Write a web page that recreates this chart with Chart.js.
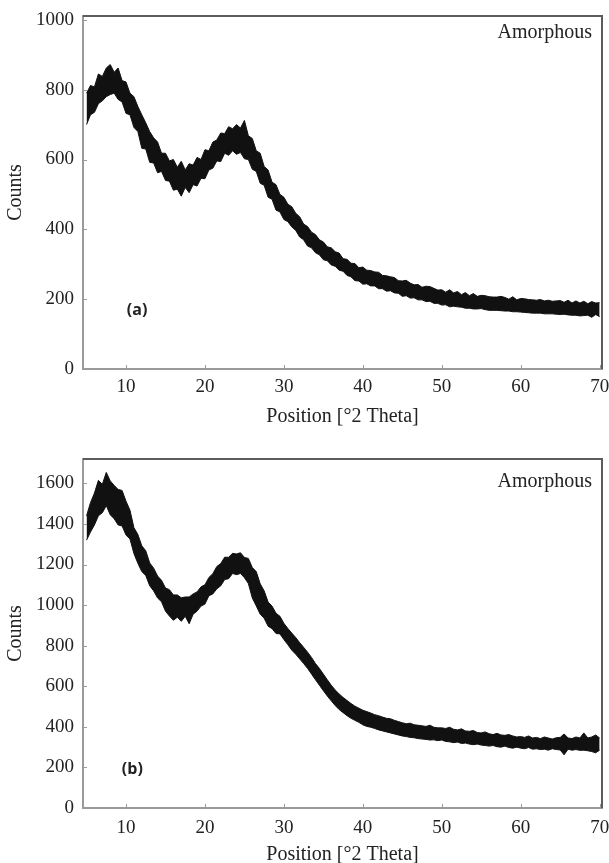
<!DOCTYPE html>
<html>
<head>
<meta charset="utf-8">
<script src="https://cdn.jsdelivr.net/npm/chart.js@4.4.1/dist/chart.umd.min.js"></script>
<style>
  html, body { margin: 0; padding: 0; background: #fff; overflow: hidden; }
  #wrapA { position: absolute; left: 0; top: 0; width: 609px; height: 440px; }
  #wrapB { position: absolute; left: 0; top: 440px; width: 609px; height: 431px; }
</style>
</head>
<body>
<div id="wrapA"><canvas id="chartA" width="609" height="440"></canvas></div>
<div id="wrapB"><canvas id="chartB" width="609" height="431"></canvas></div>
<script>
// 2-theta sampling grid, 5 to 70 deg every 0.5 deg
const theta = Array.from({ length: 131 }, (_, i) => 5 + i * 0.5);

const xTicks = [10, 20, 30, 40, 50, 60, 70];
const yTicksA = [0, 200, 400, 600, 800, 1000];
const yTicksB = [0, 200, 400, 600, 800, 1000, 1200, 1400, 1600];

// (a) upper / lower edge of the noisy trace
const upperA = [
  790, 812, 808, 845, 838, 862, 872, 850, 862, 826,
  822, 790, 780, 752, 728, 705, 680, 662, 650, 618,
  618, 596, 600, 578, 595, 570, 588, 584, 606, 600,
  628, 625, 650, 656, 676, 674, 694, 688, 700, 690,
  712, 668, 660, 625, 618, 580, 570, 535, 528, 500,
  492, 472, 465, 446, 436, 415, 408, 392, 385, 370,
  364, 350, 347, 336, 332, 316, 314, 303, 302, 290,
  292, 283, 282, 278, 277, 268, 267, 264, 262, 253,
  252, 254, 246, 241, 242, 234, 237, 236, 231, 226,
  227, 220, 227, 218, 222, 213, 219, 210, 216, 208,
  211, 210, 207, 206, 206, 208, 205, 200, 207, 198,
  202, 201, 199, 198, 197, 199, 195, 197, 194, 195,
  196, 191, 197, 189, 195, 189, 194, 187, 193, 189,
  190
];
const lowerA = [
  700, 728, 735, 760, 768, 780, 786, 790, 772, 765,
  732, 728, 692, 680, 632, 630, 592, 590, 562, 566,
  540, 538, 512, 515, 495, 520, 505, 528, 524, 546,
  545, 570, 575, 596, 594, 618, 612, 625, 615, 620,
  602, 600, 572, 566, 532, 526, 492, 486, 455, 450,
  428, 422, 407, 397, 378, 370, 352, 347, 333, 327,
  313, 310, 298, 294, 283, 280, 268, 264, 253, 252,
  243, 244, 238, 238, 230, 230, 223, 224, 218, 217,
  208, 210, 203, 204, 198, 198, 193, 194, 188, 188,
  183, 184, 178, 180, 178, 177, 174, 174, 172, 172,
  173, 170, 168, 168, 168, 167, 166, 166, 164, 164,
  163, 162, 161, 160, 160, 160, 158, 158, 158, 157,
  156, 157, 155, 154, 154, 152, 153, 154, 148, 156,
  150
];

// (b) upper / lower edge of the noisy trace
const upperB = [
  1440, 1505, 1552, 1615, 1595, 1654, 1612, 1590, 1570, 1565,
  1512, 1468, 1382, 1348, 1292, 1268, 1208, 1182, 1143, 1122,
  1084, 1076, 1050, 1050, 1036, 1040, 1040, 1055, 1065, 1090,
  1100, 1136, 1155, 1190, 1205, 1236, 1236, 1255, 1252, 1258,
  1235, 1230, 1185, 1165, 1105, 1070, 1015, 995, 960, 945,
  910, 885, 862, 840, 815, 792, 768, 742, 712, 688,
  660, 632, 605, 582, 562, 545, 530, 515, 502, 492,
  482, 475, 468, 460, 455, 448, 442, 440, 432, 426,
  420, 415, 418, 410, 408, 405, 402, 408, 398, 395,
  395, 392, 398, 388, 385, 390, 380, 378, 382, 372,
  370, 375, 366, 362, 368, 360, 358, 362, 355, 350,
  352, 348, 355, 345, 348, 342, 350, 345, 340, 346,
  348, 365, 345, 342, 350, 345, 370, 345, 350, 360,
  345
];
const lowerB = [
  1320, 1360, 1395, 1440, 1455, 1490, 1445, 1425, 1395, 1390,
  1345, 1326, 1254, 1206, 1165, 1146, 1095, 1070, 1035, 1016,
  970, 946, 925, 940, 920, 945, 908, 955, 970, 995,
  1005, 1046, 1055, 1080, 1095, 1126, 1130, 1156, 1150, 1156,
  1135, 1106, 1035, 996, 955, 935, 896, 884, 860, 858,
  830, 805, 778, 758, 735, 712, 688, 660, 632, 605,
  578, 552, 528, 505, 485, 470, 455, 442, 432, 422,
  410, 402, 398, 392, 385, 380, 375, 370, 365, 360,
  355, 352, 348, 346, 342, 340, 338, 335, 336, 332,
  335, 328, 326, 322, 325, 318, 320, 315, 312, 315,
  310, 308, 305, 308, 302, 300, 305, 298, 295, 300,
  295, 292, 298, 290, 292, 288, 290, 285, 292, 288,
  286, 262, 290, 285, 288, 284, 285, 282, 278, 272,
  285
];

const serif = 'Liberation Serif';
const textColor = '#222';
const axisColor = '#9a9a9a';

// frame on top/right, small inward ticks, and the in-plot labels
const decorations = {
  id: 'decorations',
  afterDraw(chart, args, opts) {
    const { ctx, chartArea: a, scales: { x, y } } = chart;
    ctx.save();
    ctx.strokeStyle = '#5c5c5c';
    ctx.lineWidth = 2;
    ctx.beginPath();
    ctx.moveTo(a.left, a.top);
    ctx.lineTo(a.right, a.top);
    ctx.lineTo(a.right, a.bottom);
    ctx.stroke();

    ctx.strokeStyle = axisColor;
    ctx.lineWidth = 1;
    ctx.beginPath();
    x.ticks.forEach(t => {
      const px = Math.round(x.getPixelForValue(t.value)) + 0.5;
      ctx.moveTo(px, a.bottom);
      ctx.lineTo(px, a.bottom - 4);
    });
    y.ticks.forEach(t => {
      const py = Math.round(y.getPixelForValue(t.value)) + 0.5;
      ctx.moveTo(a.left, py);
      ctx.lineTo(a.left + 4, py);
    });
    ctx.stroke();

    ctx.fillStyle = textColor;
    ctx.font = '20px "' + serif + '"';
    ctx.textAlign = 'right';
    ctx.textBaseline = 'middle';
    ctx.fillText('Amorphous', a.right - 10, a.top + opts.noteOffset);

    ctx.font = 'bold 16px "Open Sans"';
    ctx.textAlign = 'center';
    ctx.fillText(opts.tag, x.getPixelForValue(opts.tagX), y.getPixelForValue(opts.tagY));
    ctx.restore();
  }
};

function makeChart(id, upper, lower, yMax, yTicks, plotTop, axisHeight, tickPad, titlePad, deco) {
  const ctx = document.getElementById(id).getContext('2d');
  return new Chart(ctx, {
    type: 'line',
    data: {
      datasets: [
        {
          data: theta.map((t, i) => ({ x: t, y: upper[i] })),
          borderColor: '#111',
          borderWidth: 1,
          pointRadius: 0,
          fill: false,
          tension: 0
        },
        {
          data: theta.map((t, i) => ({ x: t, y: lower[i] })),
          borderColor: '#111',
          backgroundColor: '#111',
          borderWidth: 1,
          pointRadius: 0,
          fill: '-1',
          tension: 0
        }
      ]
    },
    options: {
      responsive: false,
      animation: false,
      devicePixelRatio: 1,
      layout: { padding: { top: plotTop, right: 7, left: 0, bottom: 0 } },
      plugins: {
        legend: { display: false },
        tooltip: { enabled: false },
        decorations: deco
      },
      scales: {
        x: {
          type: 'linear',
          min: 4.55,
          max: 70.3,
          grid: { display: false, drawTicks: false },
          border: { display: true, color: axisColor, width: 2 },
          ticks: {
            padding: tickPad, color: textColor, maxRotation: 0,
            font: { family: serif, size: 19 },
            callback: v => String(v)
          },
          afterBuildTicks: s => { s.ticks = xTicks.map(v => ({ value: v })); },
          afterFit: s => { s.height = axisHeight; s.paddingLeft = 0; s.paddingRight = 0; },
          title: {
            display: true,
            text: 'Position [°2 Theta]',
            color: textColor,
            font: { family: serif, size: 20 },
            padding: { top: 0, bottom: titlePad }
          }
        },
        y: {
          min: 0,
          max: yMax,
          grid: { display: false, drawTicks: false },
          border: { display: true, color: axisColor, width: 2 },
          ticks: {
            padding: 9, color: textColor,
            font: { family: serif, size: 19 },
            callback: v => String(v)
          },
          afterBuildTicks: s => { s.ticks = yTicks.map(v => ({ value: v })); },
          afterFit: s => { s.width = 83; s.paddingTop = 0; s.paddingBottom = 0; },
          title: {
            display: true,
            text: 'Counts',
            color: textColor,
            font: { family: serif, size: 20 },
            padding: { top: 4, bottom: 0 }
          }
        }
      }
    },
    plugins: [decorations]
  });
}

makeChart('chartA', upperA, lowerA, 1011, yTicksA, 16, 71, 7, 11,
  { tag: '(a)', tagX: 11.4, tagY: 168, noteOffset: 17 });
makeChart('chartB', upperB, lowerB, 1720, yTicksB, 19, 63, 9, 4,
  { tag: '(b)', tagX: 10.8, tagY: 190, noteOffset: 23 });
</script>
</body>
</html>
